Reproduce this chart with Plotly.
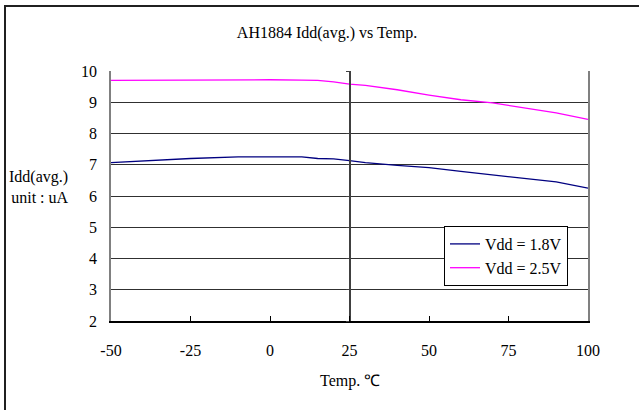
import plotly.graph_objects as go

temp = [-50, -25, -10, 0, 10, 15, 20, 25, 30, 40, 50, 60, 70, 80, 90, 100]
idd_18 = [7.07, 7.20, 7.25, 7.25, 7.25, 7.20, 7.19, 7.13, 7.07, 6.98, 6.91, 6.79, 6.68, 6.56, 6.45, 6.25]
idd_25 = [9.70, 9.72, 9.72, 9.72, 9.71, 9.70, 9.65, 9.58, 9.54, 9.40, 9.23, 9.08, 8.98, 8.83, 8.66, 8.45]

x_ticks = [-50, -25, 0, 25, 50, 75, 100]
x_labels = ["-50", "-25", "0", "25", "50", "75", "100"]
y_ticks = [2, 3, 4, 5, 6, 7, 8, 9, 10]
cross_at = 25  # y axis crosses x here

font = "Liberation Serif"

fig = go.Figure()
fig.add_trace(go.Scatter(x=temp, y=idd_18, mode="lines", name="Vdd = 1.8V",
                         line=dict(color="#000080", width=1.3)))
fig.add_trace(go.Scatter(x=temp, y=idd_25, mode="lines", name="Vdd = 2.5V",
                         line=dict(color="#FF00FF", width=1.3)))

fig.update_layout(
    width=639, height=410,
    margin=dict(l=111, r=51, t=71, b=89),
    paper_bgcolor="white", plot_bgcolor="white",
    font=dict(family=font, size=16, color="black"),
    title=dict(text="AH1884 Idd(avg.) vs Temp.", x=327 / 639, y=1 - 32 / 410,
               xanchor="center", yanchor="middle", font=dict(size=16)),
    xaxis=dict(range=[-50, 100], tickvals=x_ticks, ticktext=x_labels,
               ticks="inside", ticklen=5,
               tickcolor="black", showgrid=False, zeroline=False,
               showline=True, linecolor="black", linewidth=1.5,
               ticklabelstandoff=14),
    yaxis=dict(range=[2, 10], tickvals=y_ticks, showgrid=True,
               gridcolor="#303030", gridwidth=1, zeroline=False,
               showline=True, linecolor="#808080", linewidth=1.5, mirror=True,
               ticks="", ticklabelstandoff=9),
    yaxis2=dict(range=[2, 10], overlaying="y", anchor="free",
                position=(cross_at + 50) / 150, tickvals=y_ticks,
                showticklabels=False, showgrid=False, zeroline=False,
                showline=True, linecolor="#404040", linewidth=2,
                ticks="outside", ticklen=3, tickcolor="#404040"),
    legend=dict(x=(444 - 111) / 477, y=(321 - 226) / 250, xanchor="left",
                yanchor="top", bgcolor="white", bordercolor="black",
                borderwidth=1, font=dict(size=16), tracegroupgap=0),
    showlegend=True,
)

# dummy on y2 so the crossing axis is drawn
fig.add_trace(go.Scatter(x=[None], y=[None], yaxis="y2", showlegend=False))

fig.add_annotation(text="Idd(avg.)<br>unit : uA", xref="paper", yref="paper",
                   x=(71 - 111) / 477, y=(321 - 187) / 250, xanchor="right",
                   yanchor="middle", align="right", showarrow=False,
                   font=dict(size=16))
fig.add_annotation(text="Temp. ℃", xref="paper", yref="paper",
                   x=0.5, y=(321 - 381) / 250, xanchor="center",
                   yanchor="middle", showarrow=False, font=dict(size=16))

# outer frame
fig.add_shape(type="rect", xref="paper", yref="paper",
              x0=(5 - 111) / 477, x1=1.3, y0=-0.5, y1=1 + (71 - 6) / 250,
              line=dict(color="#202020", width=2))

fig.write_html("out.html", config={"displayModeBar": False},
               post_script="document.body.style.margin='0px';")
